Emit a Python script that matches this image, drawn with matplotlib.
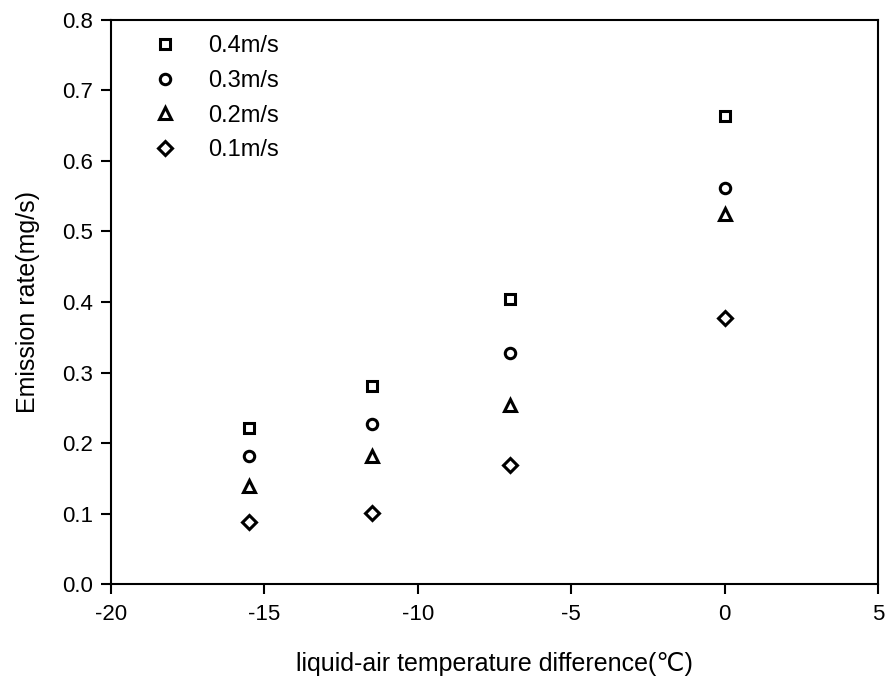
"""Emission rate vs liquid-air temperature difference."""
import matplotlib
matplotlib.use("Agg")
import matplotlib.pyplot as plt

plt.rcParams["font.family"] = ["Liberation Sans", "DejaVu Sans"]
plt.rcParams["axes.unicode_minus"] = False

temp_diff = [-15.5, -11.5, -7, 0]
rate_04 = [0.221, 0.281, 0.404, 0.664]
rate_03 = [0.182, 0.227, 0.328, 0.562]
rate_02 = [0.139, 0.182, 0.254, 0.525]
rate_01 = [0.088, 0.101, 0.169, 0.377]
labels = ["0.4m/s", "0.3m/s", "0.2m/s", "0.1m/s"]
markers = ["s", "o", "^", "D"]

fig = plt.figure(figsize=(8.88, 6.84), dpi=100)
ax = fig.add_axes([0.125, 0.146, 0.864, 0.825])

sizes = [7, 7.5, 8.5, 7]
for ys, lab, m, ms in zip([rate_04, rate_03, rate_02, rate_01], labels, markers, sizes):
    ax.plot(temp_diff, ys, linestyle="none", marker=m, markersize=ms,
            markerfacecolor="white", markeredgecolor="black",
            markeredgewidth=2.2, label=lab)

ax.set_xlim(-20, 5)
ax.set_ylim(0, 0.8)
ax.set_xticks([-20, -15, -10, -5, 0, 5])
ax.set_yticks([0.0, 0.1, 0.2, 0.3, 0.4, 0.5, 0.6, 0.7, 0.8])
ax.set_yticklabels([f"{v:.1f}" for v in ax.get_yticks()])
ax.tick_params(direction="out", length=7, width=1.5, labelsize=16)
ax.tick_params(axis="x", pad=7)
ax.tick_params(axis="y", pad=6)
for s in ax.spines.values():
    s.set_linewidth(1.5)

ax.set_xlabel("liquid-air temperature difference(℃)", fontsize=18, labelpad=20)
ax.set_ylabel("Emission rate(mg/s)", fontsize=18, labelpad=16)

ax.legend(loc="upper left", bbox_to_anchor=(0.026, 1.0), frameon=False,
          fontsize=17, handlelength=1.6, handletextpad=1.0,
          labelspacing=0.54, borderaxespad=0.25)

fig.savefig("out.png", dpi=100)
